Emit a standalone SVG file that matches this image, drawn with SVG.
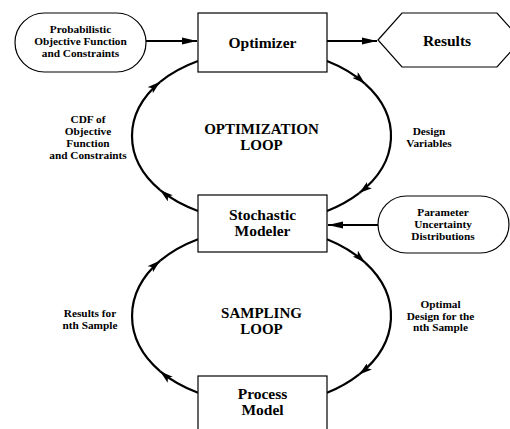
<svg xmlns="http://www.w3.org/2000/svg" width="510" height="429" viewBox="0 0 510 429">
<style>
.box{fill:#fff;stroke:#000;stroke-width:1.2}
.node{font-family:"Liberation Serif","DejaVu Serif",serif;font-weight:bold;font-size:15.5px;text-anchor:middle;fill:#000}
.loop{font-family:"Liberation Serif","DejaVu Serif",serif;font-weight:bold;font-size:15px;text-anchor:middle;fill:#000}
.lbl{font-family:"Liberation Serif","DejaVu Serif",serif;font-weight:bold;font-size:11.3px;text-anchor:middle;fill:#000}
.arc{fill:none;stroke:#000;stroke-width:2.2}
.arr{fill:none;stroke:#000;stroke-width:2.2}
</style>
<defs>
<marker id="ah" markerUnits="userSpaceOnUse" markerWidth="14" markerHeight="8" refX="13" refY="4" orient="auto">
<path d="M0,0 L13,4 L0,8 L3,4 z" fill="#000"/>
</marker>
<marker id="ah2" markerUnits="userSpaceOnUse" markerWidth="16" markerHeight="8" refX="15" refY="4" orient="auto">
<path d="M0,0.5 L15,4 L0,7.5 z" fill="#000"/>
</marker>
</defs>
<rect width="510" height="429" fill="#fff"/>

<g id="connectors">
<!-- straight arrows -->
<path class="arr" d="M146,41 L197,41" marker-end="url(#ah2)"/>
<path class="arr" d="M327,41 L377,41" marker-end="url(#ah2)"/>
<path class="arr" d="M378,225 L328,225" marker-end="url(#ah2)"/>
<!-- optimization loop right arc: Optimizer -> Stochastic -->
<path class="arc" d="M327,61 A129.5,87 0 0 1 364.9,83.6" marker-end="url(#ah)"/>
<path class="arc" d="M364.9,83.6 A129.5,87 0 0 1 359.2,193.1" marker-end="url(#ah)"/>
<path class="arc" d="M359.2,193.1 A129.5,87 0 0 1 327,211"/>
<!-- optimization loop left arc: Stochastic -> Optimizer -->
<path class="arc" d="M198,211 A129.5,87 0 0 1 160.2,190.2" marker-end="url(#ah)"/>
<path class="arc" d="M160.2,190.2 A129.5,87 0 0 1 160.2,81.8" marker-end="url(#ah)"/>
<path class="arc" d="M160.2,81.8 A129.5,87 0 0 1 198,61"/>
<!-- sampling loop right arc: Stochastic -> Process -->
<path class="arc" d="M327,239.2 A129.5,89 0 0 1 364.9,262.4" marker-end="url(#ah)"/>
<path class="arc" d="M364.9,262.4 A129.5,89 0 0 1 359.2,374.4" marker-end="url(#ah)"/>
<path class="arc" d="M359.2,374.4 A129.5,89 0 0 1 327,392.8"/>
<!-- sampling loop left arc: Process -> Stochastic -->
<path class="arc" d="M198,392.8 A129.5,89 0 0 1 160.2,371.4" marker-end="url(#ah)"/>
<path class="arc" d="M160.2,371.4 A129.5,89 0 0 1 160.2,260.6" marker-end="url(#ah)"/>
<path class="arc" d="M160.2,260.6 A129.5,89 0 0 1 198,239.2"/>
</g>

<g id="probabilistic">
<rect class="box" x="15" y="13" width="131" height="59" rx="29.5" ry="29.5"/>
<text class="lbl" x="80.5" y="33">Probabilistic</text>
<text class="lbl" x="80.5" y="45">Objective Function</text>
<text class="lbl" x="80.5" y="57">and Constraints</text>
</g>

<g id="optimizer">
<rect class="box" x="198" y="13" width="129" height="59"/>
<text class="node" x="262.5" y="48">Optimizer</text>
</g>

<g id="results">
<polygon class="box" points="378,40 402,13 497,13 521,40 497,67 402,67"/>
<text class="node" x="447" y="46">Results</text>
</g>

<g id="stochastic">
<rect class="box" x="198" y="195" width="129" height="57"/>
<text class="node" x="262.5" y="220">Stochastic</text>
<text class="node" x="262.5" y="236">Modeler</text>
</g>

<g id="parameter">
<rect class="box" x="378" y="196" width="131" height="57" rx="28.5" ry="28.5"/>
<text class="lbl" x="443" y="216">Parameter</text>
<text class="lbl" x="443" y="228">Uncertainty</text>
<text class="lbl" x="443" y="240">Distributions</text>
</g>

<g id="process">
<rect class="box" x="198" y="376" width="129" height="70"/>
<text class="node" x="262.5" y="399">Process</text>
<text class="node" x="262.5" y="415">Model</text>
</g>

<g id="loop-labels">
<text class="loop" x="261.5" y="134">OPTIMIZATION</text>
<text class="loop" x="261.5" y="150">LOOP</text>
<text class="loop" x="261.5" y="318">SAMPLING</text>
<text class="loop" x="261.5" y="334">LOOP</text>
</g>

<g id="edge-labels">
<text class="lbl" x="88" y="123">CDF of</text>
<text class="lbl" x="88" y="135">Objective</text>
<text class="lbl" x="88" y="147">Function</text>
<text class="lbl" x="88" y="159">and Constraints</text>
<text class="lbl" x="429" y="135">Design</text>
<text class="lbl" x="429" y="147">Variables</text>
<text class="lbl" x="90" y="317">Results for</text>
<text class="lbl" x="90" y="328.5">nth Sample</text>
<text class="lbl" x="440.5" y="308">Optimal</text>
<text class="lbl" x="440.5" y="319.5">Design for the</text>
<text class="lbl" x="440.5" y="331">nth Sample</text>
</g>
</svg>
